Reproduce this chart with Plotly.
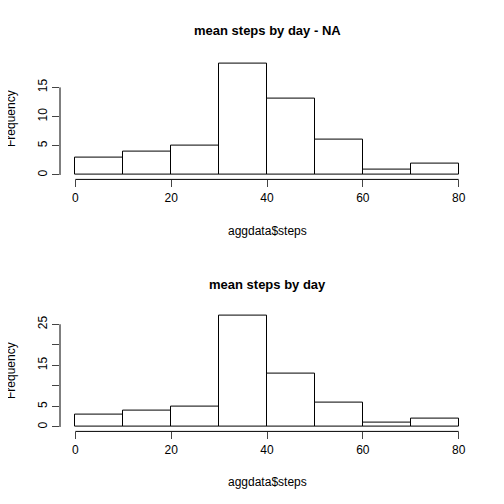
import plotly.graph_objects as go
from plotly.subplots import make_subplots

# histogram bins (steps) and counts
bin_left = [0, 10, 20, 30, 40, 50, 60, 70]
counts_na = [3, 4, 5, 19, 13, 6, 1, 2]
counts_filled = [3, 4, 5, 27, 13, 6, 1, 2]
x_ticks = [0, 20, 40, 60, 80]
y_ticks_top = [0, 5, 10, 15]
y_ticks_bottom = [0, 5, 10, 15, 20, 25]
y_text_bottom = ["0", "5", "", "15", "", "25"]

centers = [b + 5 for b in bin_left]
fnt = dict(family="Liberation Sans, Arial", size=12, color="black")
off = 7  # page offset seen in the render


def fy(py):
    return 1 - (py - off) / 504


fig = make_subplots(rows=2, cols=1)
for row, counts in [(1, counts_na), (2, counts_filled)]:
    fig.add_trace(go.Bar(x=centers, y=counts, width=10,
                         marker=dict(color="white", line=dict(color="black", width=1))),
                  row=row, col=1)

fig.update_layout(
    width=504, height=504, showlegend=False, bargap=0,
    plot_bgcolor="white", paper_bgcolor="white", font=fnt,
    margin=dict(l=59 - off, r=31 + off, t=0, b=0, autoexpand=False),
    xaxis=dict(domain=[0, 1], range=[-3.2, 83.2], tickvals=x_ticks, ticks="outside",
               ticklen=7, showgrid=False, zeroline=False, anchor="y"),
    xaxis2=dict(domain=[0, 1], range=[-3.2, 83.2], tickvals=x_ticks, ticks="outside",
                ticklen=7, showgrid=False, zeroline=False, anchor="y2"),
    yaxis=dict(domain=[fy(178.4), fy(58.6)], range=[-0.76, 19.76], tickvals=y_ticks_top,
               ticks="outside", ticklen=7, tickangle=-90, showgrid=False, zeroline=False),
    yaxis2=dict(domain=[fy(430.4), fy(310.6)], range=[-1.08, 28.08], tickvals=y_ticks_bottom,
                ticktext=y_text_bottom, ticks="outside", ticklen=7, tickangle=-90,
                showgrid=False, zeroline=False),
)

# R-style axis lines spanning only the tick range
for xr, yr, ymax in [("x", "y", 15), ("x2", "y2", 25)]:
    fig.add_shape(type="line", xref=xr, x0=0, x1=80, yref=yr + " domain", y0=0, y1=0,
                  line=dict(color="black", width=1))
    fig.add_shape(type="line", xref=xr + " domain", x0=0, x1=0, yref=yr, y0=0, y1=ymax,
                  line=dict(color="black", width=1))

plot_w = 504 - 59 - 31


def fx(px_):
    return (px_ - 59) / plot_w


for text, py in [("mean steps by day - NA", 30), ("mean steps by day", 283)]:
    fig.add_annotation(text="<b>" + text + "</b>", xref="paper", x=fx(266),
                       yref="paper", y=fy(py), xanchor="center", yanchor="middle",
                       showarrow=False, font=dict(family="Liberation Sans, Arial", size=13))
for py in [230, 481]:
    fig.add_annotation(text="aggdata$steps", xref="paper", x=fx(266), yref="paper",
                       y=fy(py), xanchor="center", yanchor="middle", showarrow=False, font=fnt)
for py in [118, 370]:
    fig.add_annotation(text="Frequency", textangle=-90, xref="paper", x=fx(10),
                       xanchor="center", yanchor="middle", yref="paper", y=fy(py),
                       showarrow=False, font=fnt)

fig.write_html("out.html")
